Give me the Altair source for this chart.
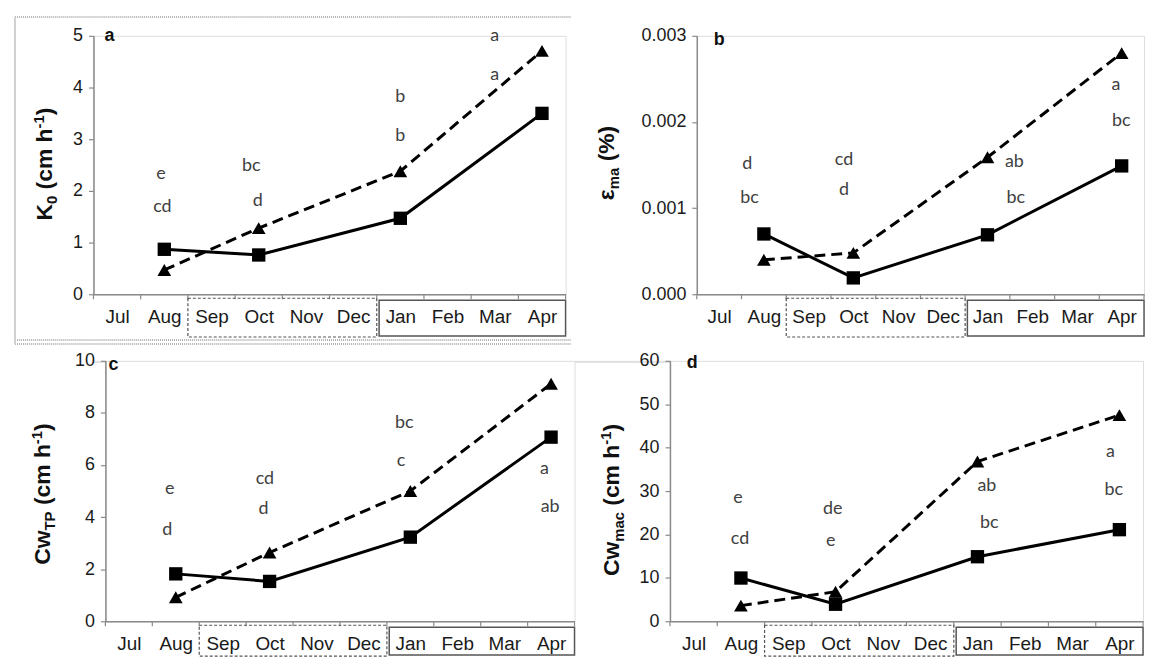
import altair as alt
import pandas as pd

months = ["Jul", "Aug", "Sep", "Oct", "Nov", "Dec", "Jan", "Feb", "Mar", "Apr"]
sample_months = ["Aug", "Oct", "Jan", "Apr"]

# season boxes under the month axis (month-index boundaries)
season_start = [1.5, 5.55]
season_end = [5.5, 9.5]

# panel a : K0 (cm h-1)
a_solid = [0.87, 0.76, 1.47, 3.50]
a_dashed = [0.47, 1.28, 2.38, 4.71]
a_letters = ["e", "cd", "bc", "d", "b", "b", "a", "a"]
a_letter_x = [0.93, 0.96, 2.84, 2.98, 6.0, 6.0, 8.0, 8.0]
a_letter_y = [2.33, 1.68, 2.48, 1.81, 3.82, 3.06, 4.99, 4.24]

# panel b : eps_ma (%)
b_solid = [0.00070, 0.00019, 0.00069, 0.00149]
b_dashed = [0.00040, 0.00048, 0.00159, 0.00280]
b_letters = ["d", "bc", "cd", "d", "ab", "bc", "a", "bc"]
b_letter_x = [0.63, 0.68, 2.79, 2.79, 6.6, 6.63, 8.87, 8.99]
b_letter_y = [0.00151, 0.00112, 0.00156, 0.00121, 0.00153, 0.00112, 0.00243, 0.00201]

# panel c : Cw_TP (cm h-1)
c_solid = [1.82, 1.53, 3.23, 7.07]
c_dashed = [0.92, 2.64, 5.0, 9.12]
c_letters = ["e", "d", "cd", "d", "bc", "c", "a", "ab"]
c_letter_x = [0.87, 0.82, 2.9, 2.87, 5.87, 5.8, 8.86, 8.98]
c_letter_y = [5.09, 3.5, 5.47, 4.3, 7.61, 6.16, 5.85, 4.4]

# panel d : Cw_mac (cm h-1)
d_solid = [9.96, 3.92, 14.87, 21.1]
d_dashed = [3.6, 6.8, 36.8, 47.5]
d_letters = ["e", "cd", "de", "e", "ab", "bc", "a", "bc"]
d_letter_x = [0.94, 0.98, 2.94, 2.9, 6.2, 6.25, 8.81, 8.88]
d_letter_y = [28.5, 19.0, 25.9, 18.5, 31.2, 22.6, 38.9, 30.2]

FONT = "Liberation Sans"
AX = "#8a8a8a"
WID = {'K': .722, 'C': .722, 'w': .778, ' ': .278, '(': .333, ')': .333, 'c': .556,
       'm': .889, 'h': .611, '-': .333, '1': .556, '0': .556, 'T': .611, 'P': .667,
       'a': .556, '%': .889, 'ε': .49}
one = pd.DataFrame({"z": [0]})


def title_layers(pieces, fs, base_x, cy):
    sizes, lens = [], []
    for t, kind in pieces:
        s = fs if kind == "n" else fs * 0.65
        sizes.append(s)
        lens.append(sum(WID[ch] for ch in t) * s)
    y = cy + sum(lens) / 2
    out = []
    for (t, kind), s, L in zip(pieces, sizes, lens):
        dx = 0 if kind == "n" else (0.22 * fs if kind == "sub" else -0.36 * fs)
        if t.strip():
            out.append(alt.Chart(one).mark_text(
                text=t, angle=270, align="left", baseline="alphabetic", font=FONT,
                fontWeight="bold", fontSize=s, color="#111111"
            ).encode(x=alt.value(base_x + dx), y=alt.value(y)))
        y -= L
    return out


def panel(solid, dashed, ymax, ystep, yfmt, lt, lx, ly, tag, tag_x, tag_y,
          w, h, pieces, tbx, tcy, box_bottom, frame=False, anchor_y=None):
    xs = alt.Scale(domain=[-0.5, 9.5], nice=False, zero=False)
    ys = alt.Scale(domain=[0, ymax], nice=False, zero=True)
    label_expr = "[" + ",".join("'%s'" % m for m in months) + "][datum.value]"
    xaxis = alt.Axis(values=list(range(len(months))), labelExpr=label_expr, ticks=False,
                     grid=False, title=None, domainColor=AX, domainWidth=1.5,
                     labelFont=FONT, labelFontSize=19, labelColor="#1a1a1a",
                     labelPadding=13, labelFlush=False, labelOverlap=False, labelBound=False)
    n = int(round(ymax / ystep))
    yaxis = alt.Axis(values=[round(i * ystep, 6) for i in range(n + 1)], format=yfmt,
                     grid=False, title=None, domainColor=AX, domainWidth=1.5,
                     tickColor=AX, tickSize=5, tickWidth=1.2, labelFont=FONT,
                     labelFontSize=18, labelPadding=6, labelColor="#1a1a1a")
    idx = [months.index(m) for m in sample_months]
    ds = pd.DataFrame({"m": idx, "v": solid})
    dd = pd.DataFrame({"m": idx, "v": dashed})
    X = lambda f: alt.X(f, scale=xs, axis=xaxis)
    Y = lambda f: alt.Y(f, scale=ys, axis=yaxis)

    layers = []
    # tick marks at month boundaries
    bnd = pd.DataFrame({"b": [i - 0.5 for i in range(len(months) + 1)]})
    layers.append(alt.Chart(bnd).mark_rule(color=AX, strokeWidth=1.2).encode(
        x=X("b:Q"), y=alt.value(h), y2=alt.value(h + 5)))
    # season boxes
    sd = pd.DataFrame({"s": season_start[:1], "e": season_end[:1]})
    layers.append(alt.Chart(sd).mark_rect(filled=False, stroke="#555555", strokeWidth=1.2,
                                          strokeDash=[3, 2]).encode(
        x=X("s:Q"), x2="e:Q", y=alt.value(h + 4), y2=alt.value(h + box_bottom)))
    ss = pd.DataFrame({"s": season_start[1:], "e": season_end[1:]})
    layers.append(alt.Chart(ss).mark_rect(filled=False, stroke="#555555", strokeWidth=1.5
                                          ).encode(
        x=X("s:Q"), x2="e:Q", y=alt.value(h + 6), y2=alt.value(h + box_bottom - 1)))
    # lines and markers
    layers.append(alt.Chart(dd).mark_line(color="black", strokeWidth=3,
                                          strokeDash=[11, 6]).encode(x=X("m:Q"), y=Y("v:Q")))
    layers.append(alt.Chart(ds).mark_line(color="black", strokeWidth=3).encode(
        x=X("m:Q"), y=Y("v:Q")))
    layers.append(alt.Chart(dd).mark_point(shape="triangle-up", filled=True, size=190,
                                           color="black", opacity=1).encode(
        x=X("m:Q"), y=Y("v:Q")))
    layers.append(alt.Chart(ds).mark_point(shape="square", filled=True, size=180,
                                           color="black", opacity=1).encode(
        x=X("m:Q"), y=Y("v:Q")))
    # significance letters
    dl = pd.DataFrame({"x": lx, "y": ly, "t": lt})
    layers.append(alt.Chart(dl).mark_text(font="Lato", fontSize=18, color="#404040",
                                          align="center", baseline="middle").encode(
        x=X("x:Q"), y=Y("y:Q"), text="t:N"))
    # panel tag
    layers.append(alt.Chart(one).mark_text(text=tag, font=FONT, fontWeight="bold", fontSize=18,
                                           align="left", baseline="alphabetic",
                                           color="#111111").encode(
        x=alt.value(tag_x), y=alt.value(tag_y)))
    layers += title_layers(pieces, 23, tbx, tcy)
    if frame:
        layers.append(alt.Chart(one).mark_rule(color="#999999", strokeWidth=1.5,
                                               strokeDash=[1, 1]).encode(
            x=alt.value(-79), x2=alt.value(w + 5), y=alt.value(-19)))
        for yy in (h + 46, h + 50):
            layers.append(alt.Chart(one).mark_rule(color="#999999", strokeWidth=1.5,
                                                   strokeDash=[1, 1]).encode(
                x=alt.value(-79), x2=alt.value(w + 5), y=alt.value(yy)))
        layers.append(alt.Chart(one).mark_rule(color="#d0d0d0", strokeWidth=2).encode(
            x=alt.value(-79), y=alt.value(-19), y2=alt.value(h + 50)))
    if anchor_y is not None:
        # invisible layout anchor: fixes the top edge of this row
        layers.append(alt.Chart(one).mark_rule(opacity=0, strokeWidth=1).encode(
            x=alt.value(0), x2=alt.value(2), y=alt.value(anchor_y)))
    return alt.layer(*layers).properties(width=w, height=h)


def spacer(w):
    return alt.Chart(one).mark_point(opacity=0, size=1).encode(
        x=alt.X("z:Q", axis=None), y=alt.Y("z:Q", axis=None)).properties(width=w, height=1)


pa = panel(a_solid, a_dashed, 5, 1, "d", a_letters, a_letter_x, a_letter_y, "a", 11, 5,
           475, 260, [("K", "n"), ("0", "sub"), (" ", "n"), ("(cm h", "n"), ("-1", "sup"), (")", "n")],
           -42, 129, 43, frame=True)
pb = panel(b_solid, b_dashed, 0.003, 0.001, ".3f", b_letters, b_letter_x, b_letter_y, "b", 17, 9,
           450, 260, [("ε", "n"), ("ma", "sub"), (" ", "n"), ("(%)", "n")],
           -83, 128, 43)
pc = panel(c_solid, c_dashed, 10, 2, "d", c_letters, c_letter_x, c_letter_y, "c", 3, 9,
           472, 262, [("Cw", "n"), ("TP", "sub"), (" ", "n"), ("(cm h", "n"), ("-1", "sup"), (")", "n")],
           -56, 134, 35, anchor_y=-14)
pd_ = panel(d_solid, d_dashed, 60, 10, "d", d_letters, d_letter_x, d_letter_y, "d", 17, 7,
            476, 262, [("Cw", "n"), ("mac", "sub"), (" ", "n"), ("(cm h", "n"), ("-1", "sup"), (")", "n")],
            -51, 140, 35)

row1 = alt.hconcat(pa, pb, spacing=132, bounds="flush")
row2 = alt.hconcat(spacer(12), pc, spacer(96), pd_, spacing=0, bounds="flush")
chart = alt.vconcat(row1, row2, spacing=0).properties(
    padding=5
).configure_view(stroke=None).configure(background="white")

chart.save("out.html", embed_options={"renderer": "svg", "actions": False})
